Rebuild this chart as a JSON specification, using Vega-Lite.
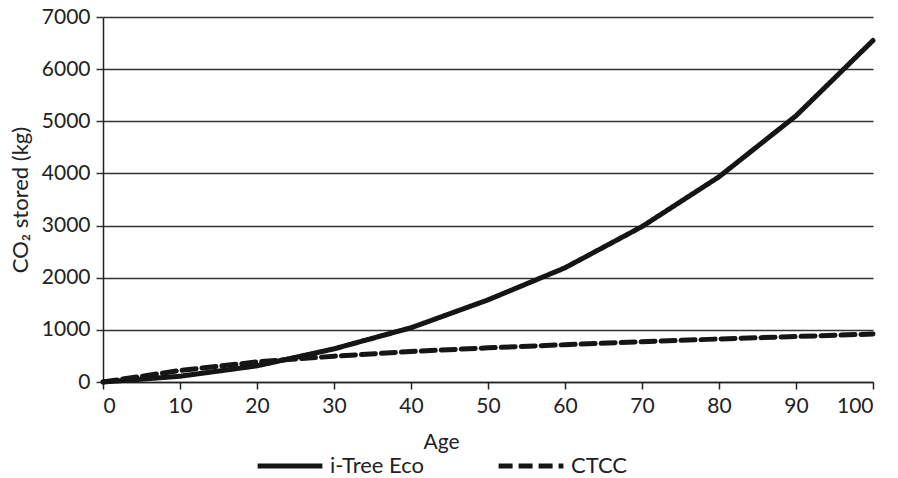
{
  "$schema": "https://vega.github.io/schema/vega-lite/v6.json",
  "width": 770,
  "height": 365,
  "autosize": "none",
  "padding": {"left": 103, "top": 17, "right": 25, "bottom": 96},
  "background": "white",
  "config": {
    "font": "Lato",
    "view": {"stroke": null}
  },
  "data": {
    "values": [
      {"age": 0, "co2": 0, "model": "i-Tree Eco"},
      {"age": 10, "co2": 110, "model": "i-Tree Eco"},
      {"age": 20, "co2": 310, "model": "i-Tree Eco"},
      {"age": 30, "co2": 635, "model": "i-Tree Eco"},
      {"age": 40, "co2": 1040, "model": "i-Tree Eco"},
      {"age": 50, "co2": 1575, "model": "i-Tree Eco"},
      {"age": 60, "co2": 2190, "model": "i-Tree Eco"},
      {"age": 70, "co2": 2980, "model": "i-Tree Eco"},
      {"age": 80, "co2": 3935, "model": "i-Tree Eco"},
      {"age": 90, "co2": 5105, "model": "i-Tree Eco"},
      {"age": 100, "co2": 6550, "model": "i-Tree Eco"},
      {"age": 0, "co2": 0, "model": "CTCC"},
      {"age": 10, "co2": 220, "model": "CTCC"},
      {"age": 20, "co2": 385, "model": "CTCC"},
      {"age": 30, "co2": 495, "model": "CTCC"},
      {"age": 40, "co2": 585, "model": "CTCC"},
      {"age": 50, "co2": 655, "model": "CTCC"},
      {"age": 60, "co2": 715, "model": "CTCC"},
      {"age": 70, "co2": 772, "model": "CTCC"},
      {"age": 80, "co2": 825, "model": "CTCC"},
      {"age": 90, "co2": 872, "model": "CTCC"},
      {"age": 100, "co2": 920, "model": "CTCC"}
    ]
  },
  "mark": {"type": "line", "strokeWidth": 5, "color": "#151515", "strokeCap": "round", "strokeJoin": "round"},
  "encoding": {
    "x": {
      "field": "age", "type": "quantitative",
      "scale": {"domain": [0, 100], "nice": false},
      "axis": {
        "title": "Age", "values": [0,10,20,30,40,50,60,70,80,90,100], "format": "d",
        "grid": false, "domainColor": "#222", "domainWidth": 1.5,
        "tickColor": "#222", "tickWidth": 1.5, "tickSize": 7,
        "labelFont": "Lato", "labelFontSize": 21, "labelColor": "#222", "labelPadding": 6,
        "titleFont": "Lato", "titleFontSize": 21, "titleFontWeight": "normal", "titleColor": "#222",
        "titleX": 338, "titleY": 66, "titleBaseline": "alphabetic", "titleAnchor": "middle"
      }
    },
    "y": {
      "field": "co2", "type": "quantitative",
      "scale": {"domain": [0, 7000], "nice": false},
      "axis": {
        "title": "CO₂  stored (kg)", "values": [0,1000,2000,3000,4000,5000,6000,7000], "format": "d",
        "grid": true, "gridColor": "#333", "gridWidth": 1.5,
        "domainColor": "#222", "domainWidth": 1.5,
        "tickColor": "#333", "tickWidth": 1.5, "tickSize": 7,
        "labelFont": "Lato", "labelFontSize": 21, "labelColor": "#222", "labelPadding": 6,
        "titleFont": "Lato", "titleFontSize": 22, "titleFontWeight": "normal", "titleColor": "#222",
        "titlePadding": 9
      }
    },
    "strokeDash": {
      "field": "model", "type": "nominal",
      "scale": {"domain": ["i-Tree Eco", "CTCC"], "range": [[1, 0], [14, 6]]},
      "legend": {
        "title": null, "orient": "none", "direction": "horizontal",
        "legendX": 152, "legendY": 414,
        "symbolType": "stroke", "symbolSize": 4200, "symbolStrokeWidth": 5,
        "symbolStrokeColor": "#151515",
        "labelFont": "Lato", "labelFontSize": 22, "labelColor": "#222", "labelOffset": 5,
        "columnPadding": 63
      }
    }
  }
}
